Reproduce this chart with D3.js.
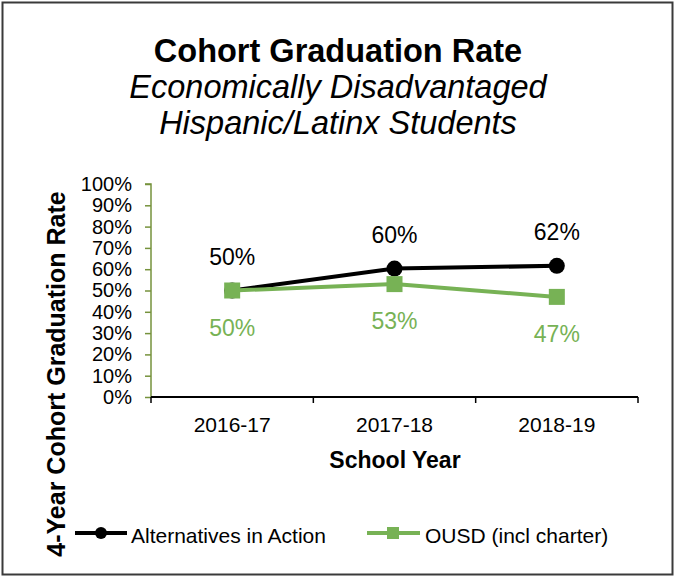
<!DOCTYPE html>
<html>
<head>
<meta charset="utf-8">
<script src="https://cdn.jsdelivr.net/npm/d3@7"></script>
<style>
  html, body { margin: 0; padding: 0; background: #fff; }
  svg { display: block; font-family: "Liberation Sans", Arial, sans-serif; }
</style>
</head>
<body>
<svg id="chart" width="676" height="578"></svg>
<script>
const categories = ["2016-17", "2017-18", "2018-19"];
const seriesNames = ["Alternatives in Action", "OUSD (incl charter)"];
const aiaValues = [50, 60.3, 61.6];
const ousdValues = [50, 53, 47];
const yTicks = [0, 10, 20, 30, 40, 50, 60, 70, 80, 90, 100];
const titleLines = ["Cohort Graduation Rate", "Economically Disadvantaged", "Hispanic/Latinx Students"];
const xTitle = "School Year";
const yTitle = "4-Year Cohort Graduation Rate";

const black = "#000000";
const green = "#77b255";
const axisGreen = "#76923c";

const svg = d3.select("#chart");

// outer border
svg.append("rect").attr("x", 2.5).attr("y", 2.5).attr("width", 670).attr("height", 572)
  .attr("fill", "#fff").attr("stroke", "#3a3a3a").attr("stroke-width", 2);

// titles
svg.append("text").attr("x", 338).attr("y", 62).attr("text-anchor", "middle")
  .attr("font-size", 32.5).attr("font-weight", "bold").text(titleLines[0]);
svg.append("text").attr("x", 338).attr("y", 98).attr("text-anchor", "middle")
  .attr("font-size", 32.5).attr("font-style", "italic").text(titleLines[1]);
svg.append("text").attr("x", 338).attr("y", 134).attr("text-anchor", "middle")
  .attr("font-size", 32.5).attr("font-style", "italic").text(titleLines[2]);

const x = d3.scaleBand().domain(categories).range([151, 638]).padding(0);
const y = d3.scaleLinear().domain([0, 100]).range([397, 184]);

// y axis
const yAxis = svg.append("g").attr("transform", "translate(151,0)")
  .call(d3.axisLeft(y).tickValues(yTicks).tickFormat(d => d + "%").tickSize(6).tickPadding(13));
yAxis.selectAll("path, line").attr("stroke", axisGreen).attr("stroke-width", 1.5);
yAxis.select(".domain").attr("d", `M-6,${y(100)}H0V${y(0)}`);
yAxis.selectAll("text").attr("font-size", 20).attr("fill", "#000")
  .attr("font-family", "Liberation Sans, Arial, sans-serif");

// x axis
const xAxis = svg.append("g").attr("transform", "translate(0,397)")
  .call(d3.axisBottom(x).tickSize(0).tickPadding(0));
xAxis.select(".domain").attr("stroke", black).attr("stroke-width", 2).attr("d", `M${x.range()[0]},0H${x.range()[1]}`);
xAxis.selectAll(".tick text").attr("font-size", 21).attr("fill", "#000").attr("y", 35).attr("dy", 0)
  .attr("font-family", "Liberation Sans, Arial, sans-serif");
// category boundary tick marks
const bounds = categories.map(c => x(c)).concat([x.range()[1]]);
xAxis.selectAll(".bound").data(bounds).enter().append("line").attr("class", "bound")
  .attr("x1", d => d).attr("x2", d => d).attr("y1", 0).attr("y2", 6)
  .attr("stroke", black).attr("stroke-width", 1.5);

// axis titles
svg.append("text").attr("x", 395).attr("y", 468).attr("text-anchor", "middle")
  .attr("font-size", 23).attr("font-weight", "bold").text(xTitle);
svg.append("text").attr("transform", "translate(65,374) rotate(-90)").attr("text-anchor", "middle")
  .attr("font-size", 25).attr("font-weight", "bold").text(yTitle);

const cx = c => x(c) + x.bandwidth() / 2;
const line = d3.line().x((d, i) => cx(categories[i])).y(d => y(d));

// AIA series
svg.append("path").datum(aiaValues).attr("d", line).attr("fill", "none")
  .attr("stroke", black).attr("stroke-width", 4);
svg.selectAll(".aiaPt").data(aiaValues).enter().append("circle").attr("class", "aiaPt")
  .attr("cx", (d, i) => cx(categories[i])).attr("cy", d => y(d)).attr("r", 8).attr("fill", black);

// OUSD series
svg.append("path").datum(ousdValues).attr("d", line).attr("fill", "none")
  .attr("stroke", green).attr("stroke-width", 4);
svg.selectAll(".ousdPt").data(ousdValues).enter().append("rect").attr("class", "ousdPt")
  .attr("x", (d, i) => cx(categories[i]) - 8).attr("y", d => y(d) - 8)
  .attr("width", 16).attr("height", 16).attr("fill", green);

// data labels
svg.selectAll(".aiaLbl").data(aiaValues).enter().append("text").attr("class", "aiaLbl")
  .attr("x", (d, i) => cx(categories[i])).attr("y", d => y(d) - 26)
  .attr("text-anchor", "middle").attr("font-size", 23).attr("fill", black)
  .text(d => Math.round(d) + "%");
svg.selectAll(".ousdLbl").data(ousdValues).enter().append("text").attr("class", "ousdLbl")
  .attr("x", (d, i) => cx(categories[i])).attr("y", d => y(d) + 45)
  .attr("text-anchor", "middle").attr("font-size", 23).attr("fill", green)
  .text(d => Math.round(d) + "%");

// legend
const lg = svg.append("g");
lg.append("line").attr("x1", 75).attr("x2", 127).attr("y1", 533).attr("y2", 533)
  .attr("stroke", black).attr("stroke-width", 4);
lg.append("circle").attr("cx", 101).attr("cy", 533).attr("r", 6).attr("fill", black);
lg.append("text").attr("x", 131).attr("y", 543).attr("font-size", 21).text(seriesNames[0]);
lg.append("line").attr("x1", 367).attr("x2", 420).attr("y1", 533).attr("y2", 533)
  .attr("stroke", green).attr("stroke-width", 4);
lg.append("rect").attr("x", 387).attr("y", 527).attr("width", 12).attr("height", 12).attr("fill", green);
lg.append("text").attr("x", 425).attr("y", 543).attr("font-size", 21).text(seriesNames[1]);
</script>
</body>
</html>
